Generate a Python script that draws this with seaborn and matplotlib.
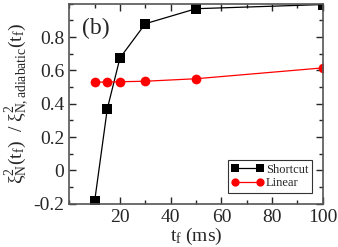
import numpy as np
import pandas as pd
import seaborn as sns
from matplotlib import pyplot as plt
from matplotlib.ticker import MultipleLocator

tf = [10, 15, 20, 30, 50, 100]
shortcut = [-0.185, 0.37, 0.675, 0.88, 0.97, 0.995]
linear = [0.53, 0.53, 0.532, 0.535, 0.55, 0.615]

df = pd.DataFrame({'tf': tf * 2,
                   'ratio': shortcut + linear,
                   'method': ['Shortcut'] * len(tf) + ['Linear'] * len(tf)})

sns.set_style('ticks')
plt.rcParams['font.family'] = ['Liberation Serif', 'DejaVu Serif']
plt.rcParams['mathtext.fontset'] = 'stix'

fig, ax = plt.subplots(figsize=(3.38, 2.47), dpi=100)
sns.lineplot(data=df, x='tf', y='ratio', hue='method', style='method',
             palette={'Shortcut': 'black', 'Linear': 'red'},
             markers={'Shortcut': 's', 'Linear': 'o'}, dashes=False,
             markersize=7, linewidth=0.9, markeredgewidth=0, ax=ax)

ax.set_xlim(0, 100)
ax.set_ylim(-0.2, 1.0)
ax.xaxis.set_major_locator(MultipleLocator(20))
ax.xaxis.set_minor_locator(MultipleLocator(10))
ax.yaxis.set_major_locator(MultipleLocator(0.2))
ax.yaxis.set_minor_locator(MultipleLocator(0.1))
ax.set_xticks([20, 40, 60, 80, 100])
ax.set_yticks([-0.2, 0, 0.2, 0.4, 0.6, 0.8])
ax.set_yticklabels(['-0.2', '0', '0.2', '0.4', '0.6', '0.8'])
ax.tick_params(which='both', direction='in', top=True, right=True,
               labelsize=14, width=1)
ax.tick_params(which='major', length=5)
ax.tick_params(which='minor', length=3)
for s in ax.spines.values():
    s.set_linewidth(1.2)
    s.set_color('#555555')

ax.set_xlabel(r'$\mathregular{t_f}$ (ms)', fontsize=14, labelpad=0)
ax.set_ylabel(r'$\mathregular{\xi^2_N(t_f)\ \ /\ \xi^2_{N,adiabatic}(t_f)}$',
              fontsize=14, labelpad=2)
ax.text(0.05, 0.93, '(b)', transform=ax.transAxes, fontsize=17, va='top')

leg = ax.legend(title=None, loc='lower right', fontsize=9, frameon=True,
                fancybox=False, edgecolor='black', handlelength=2.6,
                numpoints=2, markerscale=0.85,
                borderpad=0.25, labelspacing=0.15, handletextpad=0.2,
                borderaxespad=0.9)
leg.get_frame().set_linewidth(0.8)

fig.subplots_adjust(left=0.205, right=0.955, top=0.985, bottom=0.175)
fig.savefig('out.png', dpi=100)
